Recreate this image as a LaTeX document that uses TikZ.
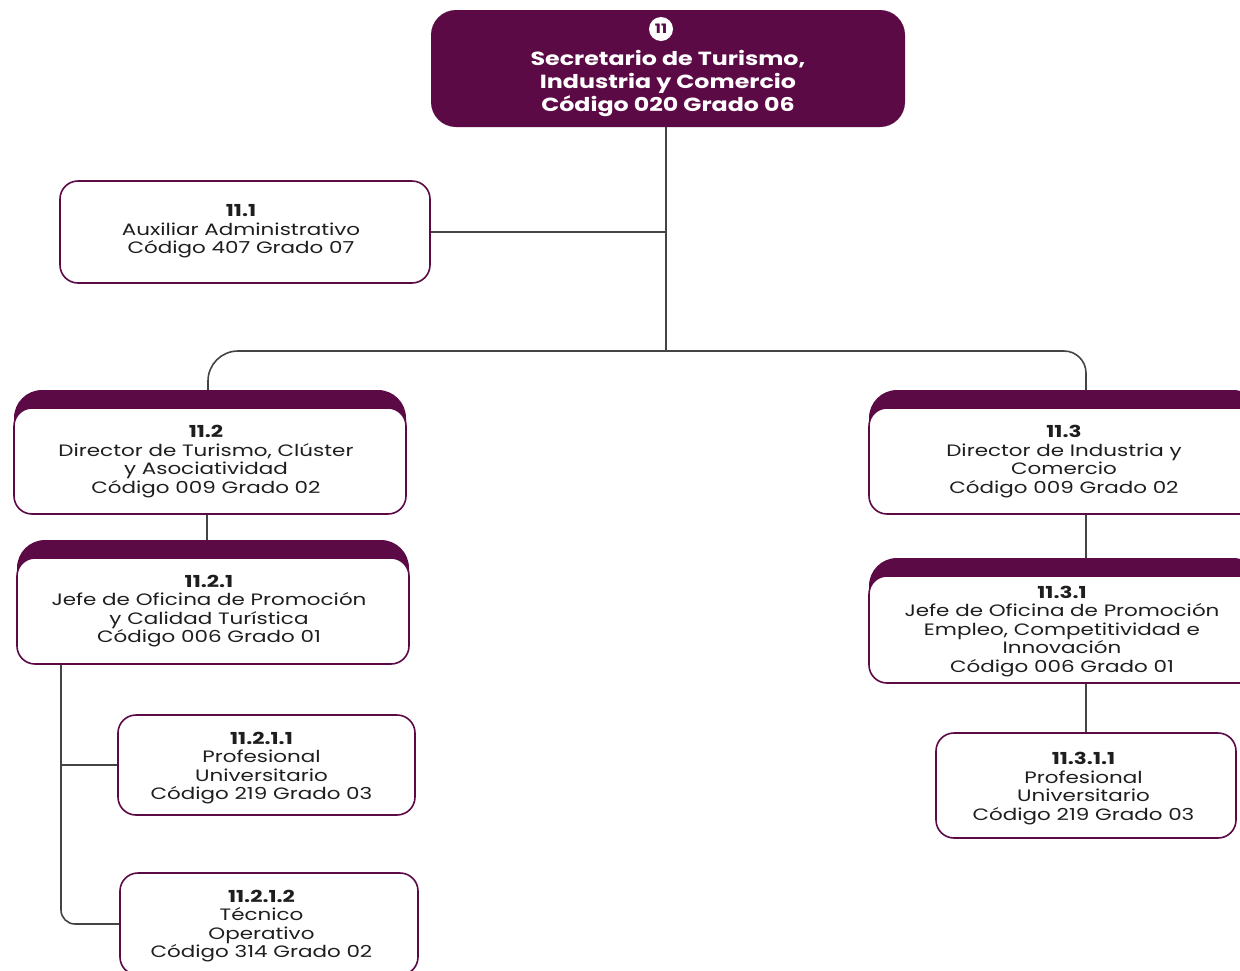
\documentclass[tikz,border=0pt]{standalone}
\usepackage{fontspec}
\setmainfont{Poppins}[FakeStretch=1.3]
\newfontfamily\topfont{Poppins}[FakeStretch=1.25]
\definecolor{purp}{HTML}{5C0A45}
\definecolor{txt}{HTML}{1E1E1E}
\definecolor{ln}{HTML}{444444}
\begin{document}
\begin{tikzpicture}[x=1pt,y=-1pt,
  wbox/.style={draw=purp, line width=1.6pt, fill=white, rounded corners=18pt, inner sep=0pt},
  lbl/.style={align=center, font=\fontsize{16.5}{18.5}\selectfont, text=txt, inner sep=0pt},
  band/.style={fill=purp, rounded corners=28pt, inner sep=0pt},
  conn/.style={draw=ln, line width=1.6pt}]
\useasboundingbox (0,0) rectangle (1240,970);
\clip (0,0) rectangle (1240,970);

% top
\node[band, rounded corners=25pt, minimum width=474, minimum height=117] (top) at (668,68.5) {};
\node[text=white, font=\topfont\bfseries\fontsize{19}{23}\selectfont, align=center, inner sep=0pt] (toptxt) at (668,83) {Secretario de Turismo,\\Industria y Comercio\\Código 020 Grado 06};
\node[circle, fill=white, text=purp, font=\topfont\bfseries\fontsize{13}{13}\selectfont, inner sep=0pt, minimum size=24] (num) at (661,29) {11};

% 11.1
\node[wbox, minimum width=370, minimum height=102] (a1) at (245,232) {};
\node[lbl] (a1t) at ([shift={(-4,-0.5)}]a1.center) {\textbf{11.1}\\Auxiliar Administrativo\\Código 407 Grado 07};

% 11.2
\node[band, minimum width=392, minimum height=124] (d2b) at (210,452) {};
\node[wbox, minimum width=392, minimum height=106] (d2w) at (210,461) {};
\node[lbl] (d2t) at ([shift={(-4,0.5)}]d2w.center) {\textbf{11.2}\\Director de Turismo, Clúster\\y Asociatividad\\Código 009 Grado 02};

% 11.3
\node[band, minimum width=392, minimum height=124] (d3b) at (1065,452) {};
\node[wbox, minimum width=392, minimum height=106] (d3w) at (1065,461) {};
\node[lbl] (d3t) at ([shift={(-1,0.5)}]d3w.center) {\textbf{11.3}\\Director de Industria y\\Comercio\\Código 009 Grado 02};

% 11.2.1
\node[band, minimum width=392, minimum height=124] (d21b) at (213,602) {};
\node[wbox, minimum width=392, minimum height=106] (d21w) at (213,611) {};
\node[lbl] (d21t) at ([shift={(-4,0)}]d21w.center) {\textbf{11.2.1}\\Jefe de Oficina de Promoción\\y Calidad Turística\\Código 006 Grado 01};

% 11.3.1
\node[band, minimum width=392, minimum height=125] (d31b) at (1065,620.5) {};
\node[wbox, minimum width=392, minimum height=107] (d31w) at (1065,629.5) {};
\node[lbl] (d31t) at ([shift={(-3,2)}]d31w.center) {\textbf{11.3.1}\\Jefe de Oficina de Promoción\\Empleo, Competitividad e\\Innovación\\Código 006 Grado 01};

% leaves
\node[wbox, minimum width=297, minimum height=100] (p21) at (266.5,765) {};
\node[lbl] (p21t) at ([shift={(-5,3)}]p21.center) {\textbf{11.2.1.1}\\Profesional\\Universitario\\Código 219 Grado 03};
\node[wbox, minimum width=298, minimum height=102] (p22) at (269,924) {};
\node[lbl] (p22t) at ([shift={(-7.5,2)}]p22.center) {\textbf{11.2.1.2}\\Técnico\\Operativo\\Código 314 Grado 02};
\node[wbox, minimum width=300, minimum height=105] (p3) at (1086,785.5) {};
\node[lbl] (p3t) at ([shift={(-2.5,3)}]p3.center) {\textbf{11.3.1.1}\\Profesional\\Universitario\\Código 219 Grado 03};

% connectors
\coordinate (bus) at (666,351);
\coordinate (lx) at (61,0);
\draw[conn] ([xshift=-2]top.south) -- (bus);
\draw[conn] (a1.east) -- (a1.east -| bus);
\draw[conn, rounded corners=30pt] ([xshift=-2]d2b.north) |- (bus);
\draw[conn, rounded corners=22pt] (bus) -| ([xshift=21]d3b.north);
\draw[conn] ([xshift=-3]d2w.south) -- ([xshift=-3]d2w.south |- d21b.north);
\draw[conn] ([xshift=21]d3w.south) -- ([xshift=21]d3w.south |- d31b.north);
\draw[conn] ([xshift=21]d31w.south) -- (p3.north);
\draw[conn, rounded corners=14pt] (d21w.south -| lx) |- (p22.west);
\draw[conn] (p21.west -| lx) -- (p21.west);
\end{tikzpicture}
\end{document}
